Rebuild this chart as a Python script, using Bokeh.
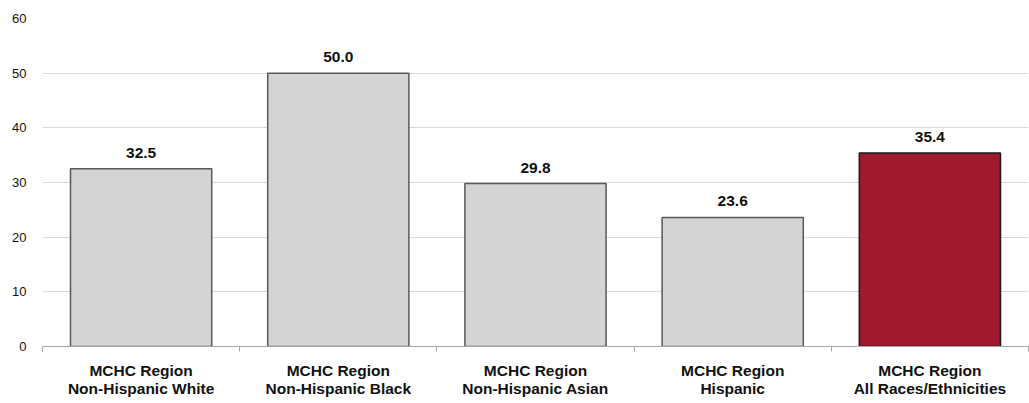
from bokeh.plotting import figure
from bokeh.models import ColumnDataSource, FixedTicker, Range1d, LabelSet, LinearAxis
from bokeh.embed import file_html
from bokeh.resources import INLINE
from bokeh.core.properties import value

group_label = "MCHC Region"
categories = [
    "Non-Hispanic White",
    "Non-Hispanic Black",
    "Non-Hispanic Asian",
    "Hispanic",
    "All Races/Ethnicities",
]
rates = [32.5, 50.0, 29.8, 23.6, 35.4]
fills = ["#d4d4d4", "#d4d4d4", "#d4d4d4", "#d4d4d4", "#a0192f"]
outlines = ["#595959", "#595959", "#595959", "#595959", "#1a1a1a"]
y_ticks = [0, 10, 20, 30, 40, 50, 60]

FONT = "Liberation Sans"

n = len(categories)
xs = [i + 0.5 for i in range(n)]
src = ColumnDataSource(dict(
    x=xs, top=rates, fill=fills, line=outlines,
    label=[f"{v:.1f}" for v in rates],
))

p = figure(width=1029, height=403, output_backend="svg", toolbar_location=None,
           x_range=Range1d(0, n), y_range=Range1d(0, 60),
           x_axis_location=None,
           min_border_left=42, min_border_right=1, min_border_top=18, min_border_bottom=57)
p.outline_line_color = None
p.background_fill_color = "white"
p.border_fill_color = "white"

p.vbar(x="x", top="top", bottom=0, width=0.716, source=src,
       fill_color="fill", line_color="line", line_width=1.5)

labels = LabelSet(x="x", y="top", text="label", source=src,
                  text_align="center", text_baseline="alphabetic", y_offset=11,
                  text_font=value(FONT), text_font_style="bold",
                  text_font_size="15.5px", text_color="#111111")
p.add_layout(labels)

# x axis, first line of category labels + boundary ticks
ax1 = LinearAxis(ticker=FixedTicker(ticks=xs, minor_ticks=list(range(n + 1))))
ax1.major_label_overrides = {x: group_label for x in xs}
ax1.major_tick_line_color = None
ax1.major_tick_in = 0
ax1.major_tick_out = 0
ax1.minor_tick_line_color = "#a6a6a6"
ax1.minor_tick_in = 0
ax1.minor_tick_out = 5
ax1.axis_line_color = "#a6a6a6"
ax1.axis_line_width = 1
ax1.major_label_text_font = FONT
ax1.major_label_text_font_style = "bold"
ax1.major_label_text_font_size = "15.5px"
ax1.major_label_text_color = "#111111"
ax1.major_label_standoff = 10
p.add_layout(ax1, "below")

# second line of category labels
ax2 = LinearAxis(ticker=FixedTicker(ticks=xs))
ax2.major_label_overrides = {x: c for x, c in zip(xs, categories)}
ax2.axis_line_color = None
ax2.major_tick_line_color = None
ax2.major_tick_in = 0
ax2.major_tick_out = 0
ax2.minor_tick_line_color = None
ax2.major_label_text_font = FONT
ax2.major_label_text_font_style = "bold"
ax2.major_label_text_font_size = "15.5px"
ax2.major_label_text_color = "#111111"
ax2.major_label_standoff = -2
p.add_layout(ax2, "below")

# y axis
p.yaxis.ticker = FixedTicker(ticks=y_ticks)
p.yaxis.axis_line_color = None
p.yaxis.major_tick_line_color = None
p.yaxis.major_tick_in = 0
p.yaxis.major_tick_out = 0
p.yaxis.minor_tick_line_color = None
p.yaxis.major_label_text_font = FONT
p.yaxis.major_label_text_font_size = "13px"
p.yaxis.major_label_text_color = "#111111"
p.yaxis.major_label_standoff = 16

p.xgrid.grid_line_color = None
p.ygrid.grid_line_color = "#d9d9d9"
p.ygrid.grid_line_width = 1

open("out.html", "w").write(file_html(p, INLINE))
